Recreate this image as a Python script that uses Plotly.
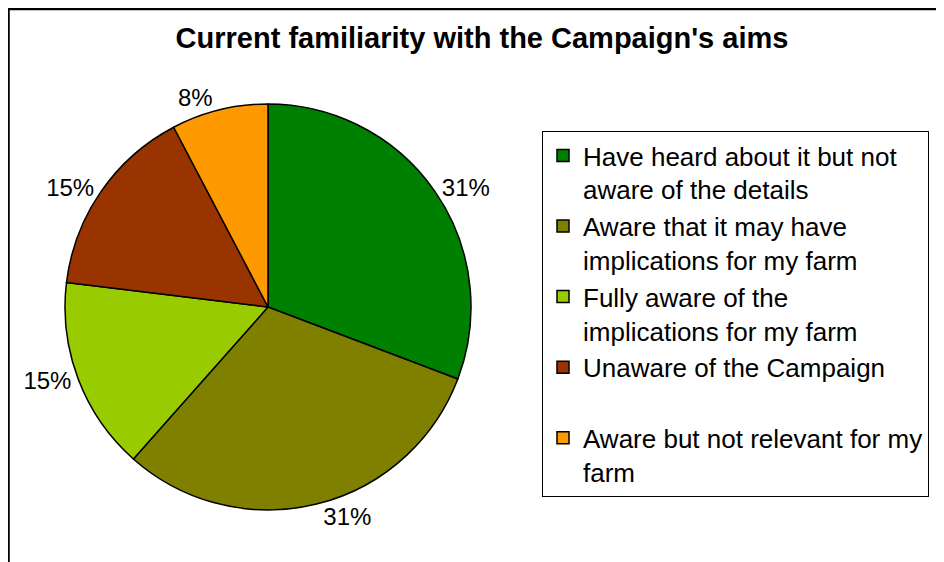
import plotly.graph_objects as go

categories = [
    "Have heard about it but not<br>aware of the details",
    "Aware that it may have<br>implications for my farm",
    "Fully aware of the<br>implications for my farm",
    "Unaware of the Campaign<br> ",
    "Aware but not relevant for my<br>farm",
]
counts = [4, 4, 2, 2, 1]
colors = ["#008000", "#808000", "#99CC00", "#993300", "#FF9900"]

W, H = 944, 562

fig = go.Figure(go.Pie(
    labels=categories,
    values=counts,
    sort=False,
    direction="clockwise",
    rotation=0,
    marker=dict(colors=colors, line=dict(color="black", width=1.5)),
    textposition="outside",
    texttemplate="%{percent:.0%}",
    textfont=dict(family="Liberation Sans, Arial", size=24, color="black"),
    domain=dict(x=[57 / W, 463 / W], y=[1 - 502 / H, 1 - 96 / H]),
    hoverinfo="label+percent",
))

fig.update_layout(
    width=W, height=H,
    margin=dict(l=0, r=0, t=0, b=0),
    paper_bgcolor="white",
    plot_bgcolor="white",
    font=dict(family="Liberation Sans, Arial", size=24, color="black"),
    title=dict(
        text="<b>Current familiarity with the Campaign's aims</b>",
        x=474 / W, y=1 - 30 / H, xanchor="center", yanchor="middle",
        font=dict(family="Liberation Sans, Arial", size=29, color="black"),
    ),
    showlegend=True,
    legend=dict(
        x=534 / W, y=1 - 123 / H, xanchor="left", yanchor="top",
        bordercolor="black", borderwidth=1, bgcolor="white",
        valign="top",
        font=dict(family="Liberation Sans, Arial", size=26, color="black"),
    ),
    shapes=[
        dict(type="line", xref="paper", yref="paper",
             x0=0, x1=1, y0=1 - 1 / H, y1=1 - 1 / H,
             line=dict(color="black", width=2.5)),
        dict(type="line", xref="paper", yref="paper",
             x0=0.5 / W, x1=0.5 / W, y0=0, y1=1,
             line=dict(color="black", width=2.5)),
    ],
)

fig.write_html("out.html")
